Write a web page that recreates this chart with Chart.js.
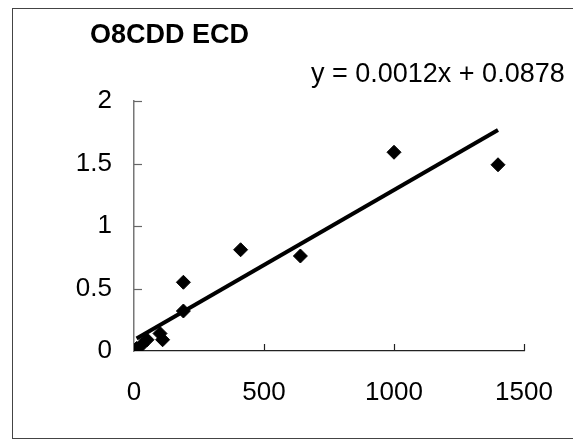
<!DOCTYPE html>
<html>
<head>
<meta charset="utf-8">
<script src="https://cdn.jsdelivr.net/npm/chart.js@4/dist/chart.umd.min.js"></script>
<style>
  html, body { margin: 0; padding: 0; background: #fff; }
  #wrap { width: 573px; height: 443px; }
</style>
</head>
<body>
<div id="wrap"><canvas id="chart" width="573" height="443"></canvas></div>
<script>
// dane
const titleText = "O8CDD ECD";
const xValues = [10, 30, 50, 100, 110, 190, 190, 410, 640, 1000, 1400];
const yValues = [0.02, 0.05, 0.09, 0.14, 0.09, 0.55, 0.32, 0.81, 0.76, 1.59, 1.49];
const slope = 0.0012;
const intercept = 0.0878;
const xTicks = [0, 500, 1000, 1500];
const yTicks = [0, 0.5, 1, 1.5, 2];

const points = xValues.map((x, i) => ({x: x, y: yValues[i]}));
const xMin = Math.min(...xValues);
const xMax = Math.max(...xValues);
const trend = [xMin, xMax].map(x => ({x: x, y: slope * x + intercept}));
const eqText = "y = " + slope + "x + " + intercept;

const font = "'Liberation Sans', Arial, sans-serif";

// ramka, tytul, rownanie i kreski podzialki do srodka
const extras = {
  id: "extras",
  afterDraw(chart) {
    const c = chart.ctx;
    const xs = chart.scales.x, ys = chart.scales.y;
    c.save();
    c.strokeStyle = "#444";
    c.lineWidth = 1;
    c.strokeRect(12.5, 8.5, 572, 430);

    c.strokeStyle = "#666";
    c.lineWidth = 1.2;
    yTicks.forEach(v => {
      if (v === 0) return;
      const py = Math.round(ys.getPixelForValue(v)) + 0.5;
      c.beginPath();
      c.moveTo(xs.left, py);
      c.lineTo(xs.left + 8, py);
      c.stroke();
    });
    c.strokeStyle = "#222";
    xTicks.forEach(v => {
      if (v === 0) return;
      const px = Math.round(xs.getPixelForValue(v)) + 0.5;
      c.beginPath();
      c.moveTo(px, ys.bottom);
      c.lineTo(px, ys.bottom - 7);
      c.stroke();
    });

    c.fillStyle = "#000";
    c.textBaseline = "alphabetic";
    c.font = "bold 27px " + font;
    c.fillText(titleText, 90, 43);
    c.font = "27px " + font;
    c.fillText(eqText, 311, 82);
    c.restore();
  }
};

new Chart("chart", {
  type: "scatter",
  data: {
    datasets: [{
      data: points,
      pointStyle: "rectRot",
      pointRadius: 7,
      pointHoverRadius: 7,
      backgroundColor: "#000",
      borderColor: "#000",
      order: 1
    }, {
      type: "line",
      data: trend,
      borderColor: "#000",
      borderWidth: 4,
      pointRadius: 0,
      fill: false,
      order: 2
    }]
  },
  options: {
    responsive: false,
    animation: false,
    events: [],
    layout: {padding: {left: 0, right: 49, top: 101, bottom: 0}},
    plugins: {
      legend: {display: false},
      tooltip: {enabled: false}
    },
    scales: {
      x: {
        type: "linear",
        min: 0,
        max: 1500,
        afterBuildTicks: s => { s.ticks = xTicks.map(v => ({value: v})); },
        afterFit: s => { s.height = 92; s.paddingLeft = 0; s.paddingRight = 0; },
        grid: {display: false, drawTicks: false},
        border: {display: true, color: "#222", width: 1.2},
        ticks: {color: "#000", font: {family: font, size: 26}, padding: 26, maxRotation: 0,
                callback: v => String(v)}
      },
      y: {
        type: "linear",
        min: 0,
        max: 2,
        afterBuildTicks: s => { s.ticks = yTicks.map(v => ({value: v})); },
        afterFit: s => { s.width = 134; s.paddingTop = 0; s.paddingBottom = 0; },
        grid: {display: false, drawTicks: false},
        border: {display: true, color: "#777", width: 1.5},
        ticks: {color: "#000", font: {family: font, size: 26}, padding: 22,
                callback: v => String(v)}
      }
    }
  },
  plugins: [extras]
});
</script>
</body>
</html>
